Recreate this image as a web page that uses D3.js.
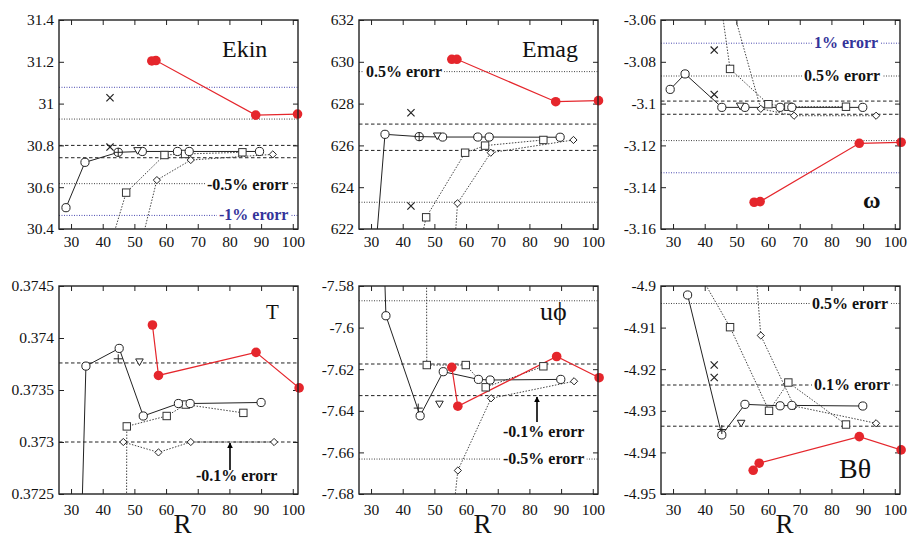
<!DOCTYPE html>
<html><head><meta charset="utf-8">
<script src="https://cdn.jsdelivr.net/npm/d3@7"></script>
<style>body{margin:0;background:#fff}svg{display:block}</style>
</head><body>
<svg id="c" width="908" height="543"></svg>
<script>
// ---------------- DATA ----------------
const rTicks = [30, 40, 50, 60, 70, 80, 90, 100];

// Ekin
const ekinTicks = [30.4, 30.6, 30.8, 31, 31.2, 31.4];
const ekinCircle = [[28.4,30.502],[34.4,30.719],[44.9,30.767],[52.5,30.771],[63.6,30.771],[67.3,30.771],[89.5,30.771]];
const ekinSquare = [[40,30.2],[47.4,30.574],[59.5,30.754],[66.0,30.759],[84.1,30.767]];
const ekinDiamond = [[50,30.2],[57.1,30.634],[67.8,30.73],[93.7,30.757]];
const ekinRed = [[55.5,31.204],[56.8,31.206],[88.3,30.945],[101.5,30.95]];
const ekinCross = [[42.3,31.028],[42.3,30.792]];
const ekinPlus = [[44.9,30.767]];
const ekinTri = [[51.0,30.775]];
const ekinRefs = [31.078, 30.926, 30.80, 30.741, 30.617, 30.465];

// Emag
const emagTicks = [622, 624, 626, 628, 630, 632];
const emagCircle = [[28.4,615.2],[34.4,626.53],[45.2,626.42],[52.6,626.4],[63.7,626.4],[67.3,626.4],[89.7,626.39]];
const emagSquare = [[43,619.5],[47.4,622.56],[59.7,625.65],[66.0,625.99],[84.4,626.26]];
const emagDiamond = [[55,618],[57.3,623.23],[67.8,625.65],[93.9,626.26]];
const emagRed = [[55.5,630.12],[57.1,630.12],[88.3,628.09],[101.8,628.14]];
const emagCross = [[42.6,627.56],[42.6,623.1]];
const emagPlus = [[45.2,626.42]];
const emagTri = [[50.9,626.45]];
const emagRefs = [629.53, 627.02, 625.76, 623.28];

// omega
const omegaTicks = [-3.16, -3.14, -3.12, -3.1, -3.08, -3.06];
const omegaCircle = [[29.1,-3.0932],[33.8,-3.0858],[45.4,-3.1018],[52.7,-3.1018],[63.8,-3.1018],[67.5,-3.1018],[89.9,-3.1018]];
const omegaSquare = [[44,-3.04],[48,-3.0834],[60.1,-3.1003],[66.4,-3.1015],[84.6,-3.1015]];
const omegaDiamond = [[48,-3.05],[57.7,-3.1025],[68.2,-3.1058],[94.1,-3.1058]];
const omegaRed = [[55.6,-3.1472],[57.5,-3.1469],[88.8,-3.119],[102,-3.1185]];
const omegaCross = [[43,-3.0744],[43,-3.0956]];
const omegaPlus = [];
const omegaTri = [[51.2,-3.1012]];
const omegaRefs = [-3.0711, -3.0868, -3.0988, -3.1051, -3.1177, -3.1331];

// T
const tTicks = [0.3725, 0.373, 0.3735, 0.374, 0.3745];
const tCircle = [[28.4,0.3667],[34.7,0.37373],[45.2,0.3739],[52.8,0.37325],[63.9,0.37337],[67.6,0.37337],[90,0.37338]];
const tSquare = [[47.3,0.370],[47.6,0.37315],[60.2,0.37325],[66.2,0.37336],[84.4,0.37328]];
const tDiamond = [[46.5,0.373],[57.6,0.3729],[67.8,0.373],[94.1,0.373]];
const tRed = [[55.7,0.374125],[57.6,0.37364],[88.4,0.373862],[102,0.37352]];
const tCross = [];
const tPlus = [[44.9,0.3738]];
const tTri = [[51.6,0.37377]];
const tRefs = [0.37376, 0.37300];

// u_phi
const uTicks = [-7.68, -7.66, -7.64, -7.62, -7.6, -7.58];
const uCircle = [[28.4,-7.29],[34.7,-7.5943],[45.5,-7.6424],[52.8,-7.6212],[63.9,-7.6249],[67.6,-7.6252],[89.9,-7.6249]];
const uSquare = [[47.4,-7.50],[47.6,-7.618],[59.9,-7.618],[66.2,-7.6287],[84.4,-7.6186]];
const uDiamond = [[54.5,-7.71],[57.4,-7.6687],[67.9,-7.634],[94.1,-7.6258]];
const uRed = [[55.5,-7.6191],[57.4,-7.6378],[88.6,-7.6139],[102,-7.6241]];
const uCross = [];
const uPlus = [[44.9,-7.6387]];
const uTri = [[51.6,-7.6368]];
const uRefs = [-7.5871, -7.6175, -7.6327, -7.6632];

// B_theta
const bTicks = [-4.95, -4.94, -4.93, -4.92, -4.91, -4.9];
const bCircle = [[34.6,-4.90216],[45.4,-4.9358],[52.7,-4.92845],[63.8,-4.9288],[67.5,-4.9287],[89.9,-4.92885]];
const bSquare = [[37.5,-4.896],[48,-4.9099],[60.3,-4.930],[66.4,-4.9232],[84.6,-4.9333]];
const bDiamond = [[56,-4.895],[57.7,-4.9119],[68.2,-4.92885],[94.1,-4.933]];
const bRed = [[55.3,-4.9443],[57.2,-4.9426],[88.8,-4.9362],[102,-4.9394]];
const bCross = [[43,-4.919],[43,-4.922]];
const bPlus = [[45.4,-4.9345]];
const bTri = [[51.5,-4.933]];
const bRefs = [-4.9042, -4.9238, -4.9337];

// ---------------- LAYOUT ----------------
const W = 239;
const SERIF = "'Liberation Serif','Times New Roman',serif";
const RED = "#e5262c";
const NAVY = "#34349a";

const panels = [
  {left:59, top:20, h:209, yd:[30.4,31.4], ticks:ekinTicks, circle:ekinCircle, square:ekinSquare, diamond:ekinDiamond, red:ekinRed, cross:ekinCross, plus:ekinPlus, tri:ekinTri,
   refs:ekinRefs, refStyle:["blue","dot","dash","dash","dot","blue"],
   title:{t:"Ekin", x:163, y:37, size:24, bold:false},
   labels:[{t:"-0.5% erorr", x:148, y:190-20, c:"#111"},{t:"-1% erorr", x:160, y:200, c:NAVY}], arrow:null, xlab:false},
  {left:359, top:20, h:209, yd:[622,632], ticks:emagTicks, circle:emagCircle, square:emagSquare, diamond:emagDiamond, red:emagRed, cross:emagCross, plus:emagPlus, tri:emagTri,
   refs:emagRefs, refStyle:["dot","dash","dash","dot"],
   title:{t:"Emag", x:163, y:37, size:24, bold:false},
   labels:[{t:"0.5% erorr", x:7, y:57, c:"#111"}], arrow:null, xlab:false},
  {left:661, top:20, h:209, yd:[-3.16,-3.06], ticks:omegaTicks, circle:omegaCircle, square:omegaSquare, diamond:omegaDiamond, red:omegaRed, cross:omegaCross, plus:omegaPlus, tri:omegaTri,
   refs:omegaRefs, refStyle:["blue","dot","dash","dash","dot","blue"],
   title:{t:"ω", x:202, y:188, size:24, bold:true},
   labels:[{t:"1% erorr", x:153, y:28, c:NAVY},{t:"0.5% erorr", x:143, y:61, c:"#111"}], arrow:null, xlab:false},
  {left:59, top:286, h:208, yd:[0.3725,0.3745], ticks:tTicks, circle:tCircle, square:tSquare, diamond:tDiamond, red:tRed, cross:tCross, plus:tPlus, tri:tTri,
   refs:tRefs, refStyle:["dash","dash"],
   title:{t:"T", x:207, y:33, size:21, bold:false},
   labels:[{t:"-0.1% erorr", x:137, y:195, c:"#111"}], arrow:{x:171, y1:184, y2:157}, xlab:true},
  {left:359, top:286, h:208, yd:[-7.68,-7.58], ticks:uTicks, circle:uCircle, square:uSquare, diamond:uDiamond, red:uRed, cross:uCross, plus:uPlus, tri:uTri,
   refs:uRefs, refStyle:["dot","dash","dash","dot"],
   title:{t:"uϕ", x:181, y:34, size:26, bold:false},
   labels:[{t:"-0.1% erorr", x:144, y:151, c:"#111"},{t:"-0.5% erorr", x:144, y:178, c:"#111"}], arrow:{x:178, y1:136, y2:111}, xlab:true},
  {left:661, top:286, h:208, yd:[-4.95,-4.9], ticks:bTicks, circle:bCircle, square:bSquare, diamond:bDiamond, red:bRed, cross:bCross, plus:bPlus, tri:bTri,
   refs:bRefs, refStyle:["dot","dash","dash"],
   title:{t:"Bθ", x:178, y:192, size:28, bold:false},
   labels:[{t:"0.5% erorr", x:151, y:23, c:"#111"},{t:"0.1% erorr", x:153, y:104, c:"#111"}], arrow:null, xlab:true}
];

const svg = d3.select("#c");
svg.append("rect").attr("width",908).attr("height",543).attr("fill","#fff");
const defs = svg.append("defs");
defs.append("marker").attr("id","ah").attr("viewBox","0 0 10 10").attr("refX",9).attr("refY",5)
  .attr("markerWidth",6).attr("markerHeight",7).attr("orient","auto-start-reverse").attr("markerUnits","userSpaceOnUse")
  .append("path").attr("d","M0,0 L10,5 L0,10 Z").attr("fill","#000");

const x = d3.scaleLinear().domain([26.2, 101.65]).range([0, W]);
const fmt = v => String(+v.toFixed(5));

panels.forEach((p, i) => {
  const y = d3.scaleLinear().domain(p.yd).range([p.h, 0]);
  const g = svg.append("g").attr("transform", `translate(${p.left},${p.top})`);
  defs.append("clipPath").attr("id","clip"+i).append("rect").attr("width",W).attr("height",p.h);

  // axes (inward ticks)
  const ax = g.append("g").attr("transform",`translate(0,${p.h})`)
    .call(d3.axisBottom(x).tickValues(rTicks).tickSizeInner(-5).tickSizeOuter(0).tickPadding(p.xlab ? 10.3 : 6.9).tickFormat(d3.format("d")));
  const ay = g.append("g").call(d3.axisLeft(y).tickValues(p.ticks).tickSizeInner(-5).tickSizeOuter(0).tickPadding(5).tickFormat(fmt));
  const at = g.append("g").call(d3.axisTop(x).tickValues(rTicks).tickSizeInner(-5).tickSizeOuter(0).tickFormat(""));
  const ar = g.append("g").attr("transform",`translate(${W},0)`).call(d3.axisRight(y).tickValues(p.ticks).tickSizeInner(-5).tickSizeOuter(0).tickFormat(""));
  [ax, ay, at, ar].forEach(a => {
    a.select(".domain").remove();
    a.selectAll("line").attr("stroke","#222").attr("stroke-width",1);
    a.selectAll("text").attr("font-family",SERIF).attr("font-size",15.5).attr("fill","#111");
  });

  const body = g.append("g").attr("clip-path",`url(#clip${i})`);

  // reference lines
  p.refs.forEach((v, k) => {
    const st = p.refStyle[k];
    body.append("line").attr("x1",0).attr("x2",W).attr("y1",y(v)).attr("y2",y(v))
      .attr("stroke", st === "blue" ? "#4a4ab0" : (st === "dash" ? "#222" : "#444"))
      .attr("stroke-width", 1)
      .attr("stroke-dasharray", st === "dash" ? "3.5,2.5" : "1,1.5");
  });

  // error labels with white boxes
  p.labels.forEach(l => {
    const t = g.append("text").attr("x",l.x).attr("y",l.y).attr("font-family",SERIF).attr("font-weight","bold")
      .attr("font-size",16).attr("fill",l.c).text(l.t);
    const bb = t.node().getBBox();
    g.insert("rect", () => t.node()).attr("x",bb.x-2).attr("y",bb.y+1).attr("width",bb.width+4).attr("height",bb.height-2).attr("fill","#fff");
  });
  if (p.arrow) {
    g.append("line").attr("x1",p.arrow.x).attr("x2",p.arrow.x).attr("y1",p.arrow.y1).attr("y2",p.arrow.y2)
      .attr("stroke","#000").attr("stroke-width",1.6).attr("marker-end","url(#ah)");
  }

  const line = d3.line().x(d => x(d[0])).y(d => y(d[1]));
  // series lines
  body.append("path").datum(p.square).attr("d",line).attr("fill","none").attr("stroke","#444").attr("stroke-width",1).attr("stroke-dasharray","1.5,1.5");
  body.append("path").datum(p.diamond).attr("d",line).attr("fill","none").attr("stroke","#444").attr("stroke-width",1).attr("stroke-dasharray","1.5,1.5");
  body.append("path").datum(p.circle).attr("d",line).attr("fill","none").attr("stroke","#222").attr("stroke-width",1);
  body.append("path").datum(p.red).attr("d",line).attr("fill","none").attr("stroke",RED).attr("stroke-width",1.2);

  // markers
  const inRange = d => d[1] >= p.yd[0] && d[1] <= p.yd[1];
  body.selectAll(".sq").data(p.square.filter(inRange)).join("rect")
    .attr("x",d => x(d[0]) - 3.7).attr("y",d => y(d[1]) - 3.7).attr("width",7.4).attr("height",7.4)
    .attr("fill","#fff").attr("stroke","#333").attr("stroke-width",1);
  body.selectAll(".dm").data(p.diamond.filter(inRange)).join("path")
    .attr("transform",d => `translate(${x(d[0])},${y(d[1])})`).attr("d","M0,-3.6L3.6,0L0,3.6L-3.6,0Z")
    .attr("fill","#fff").attr("stroke","#222").attr("stroke-width",1);
  body.selectAll(".ci").data(p.circle.filter(inRange)).join("circle")
    .attr("cx",d => x(d[0])).attr("cy",d => y(d[1])).attr("r",4.1)
    .attr("fill","#fff").attr("stroke","#222").attr("stroke-width",1);
  body.selectAll(".tr").data(p.tri).join("path")
    .attr("transform",d => `translate(${x(d[0])},${y(d[1])})`).attr("d","M-3.8,-3L3.8,-3L0,3.6Z")
    .attr("fill","#fff").attr("stroke","#222").attr("stroke-width",1);
  body.selectAll(".pl").data(p.plus).join("path")
    .attr("transform",d => `translate(${x(d[0])},${y(d[1])})`).attr("d","M-4.5,0L4.5,0M0,-4.5L0,4.5")
    .attr("stroke","#222").attr("stroke-width",1);
  body.selectAll(".cr").data(p.cross).join("path")
    .attr("transform",d => `translate(${x(d[0])},${y(d[1])})`).attr("d","M-3.6,-3.6L3.6,3.6M-3.6,3.6L3.6,-3.6")
    .attr("stroke","#222").attr("stroke-width",1.2);
  g.selectAll(".rd").data(p.red).join("circle")
    .attr("cx",d => x(d[0])).attr("cy",d => y(d[1])).attr("r",4.8).attr("fill",RED);

  // frame
  g.append("rect").attr("width",W).attr("height",p.h).attr("fill","none").attr("stroke","#222").attr("stroke-width",1.4);

  // title
  g.append("text").attr("x",p.title.x).attr("y",p.title.y).attr("font-family",SERIF)
    .attr("font-size",p.title.size).attr("font-weight",p.title.bold ? "bold" : "normal").attr("fill","#111").text(p.title.t);

  if (p.xlab) {
    g.append("text").attr("x",W/2 + 4).attr("y",p.h + 39).attr("text-anchor","middle")
      .attr("font-family",SERIF).attr("font-size",27).attr("fill","#111").text("R");
  }
});
</script>
</body></html>
